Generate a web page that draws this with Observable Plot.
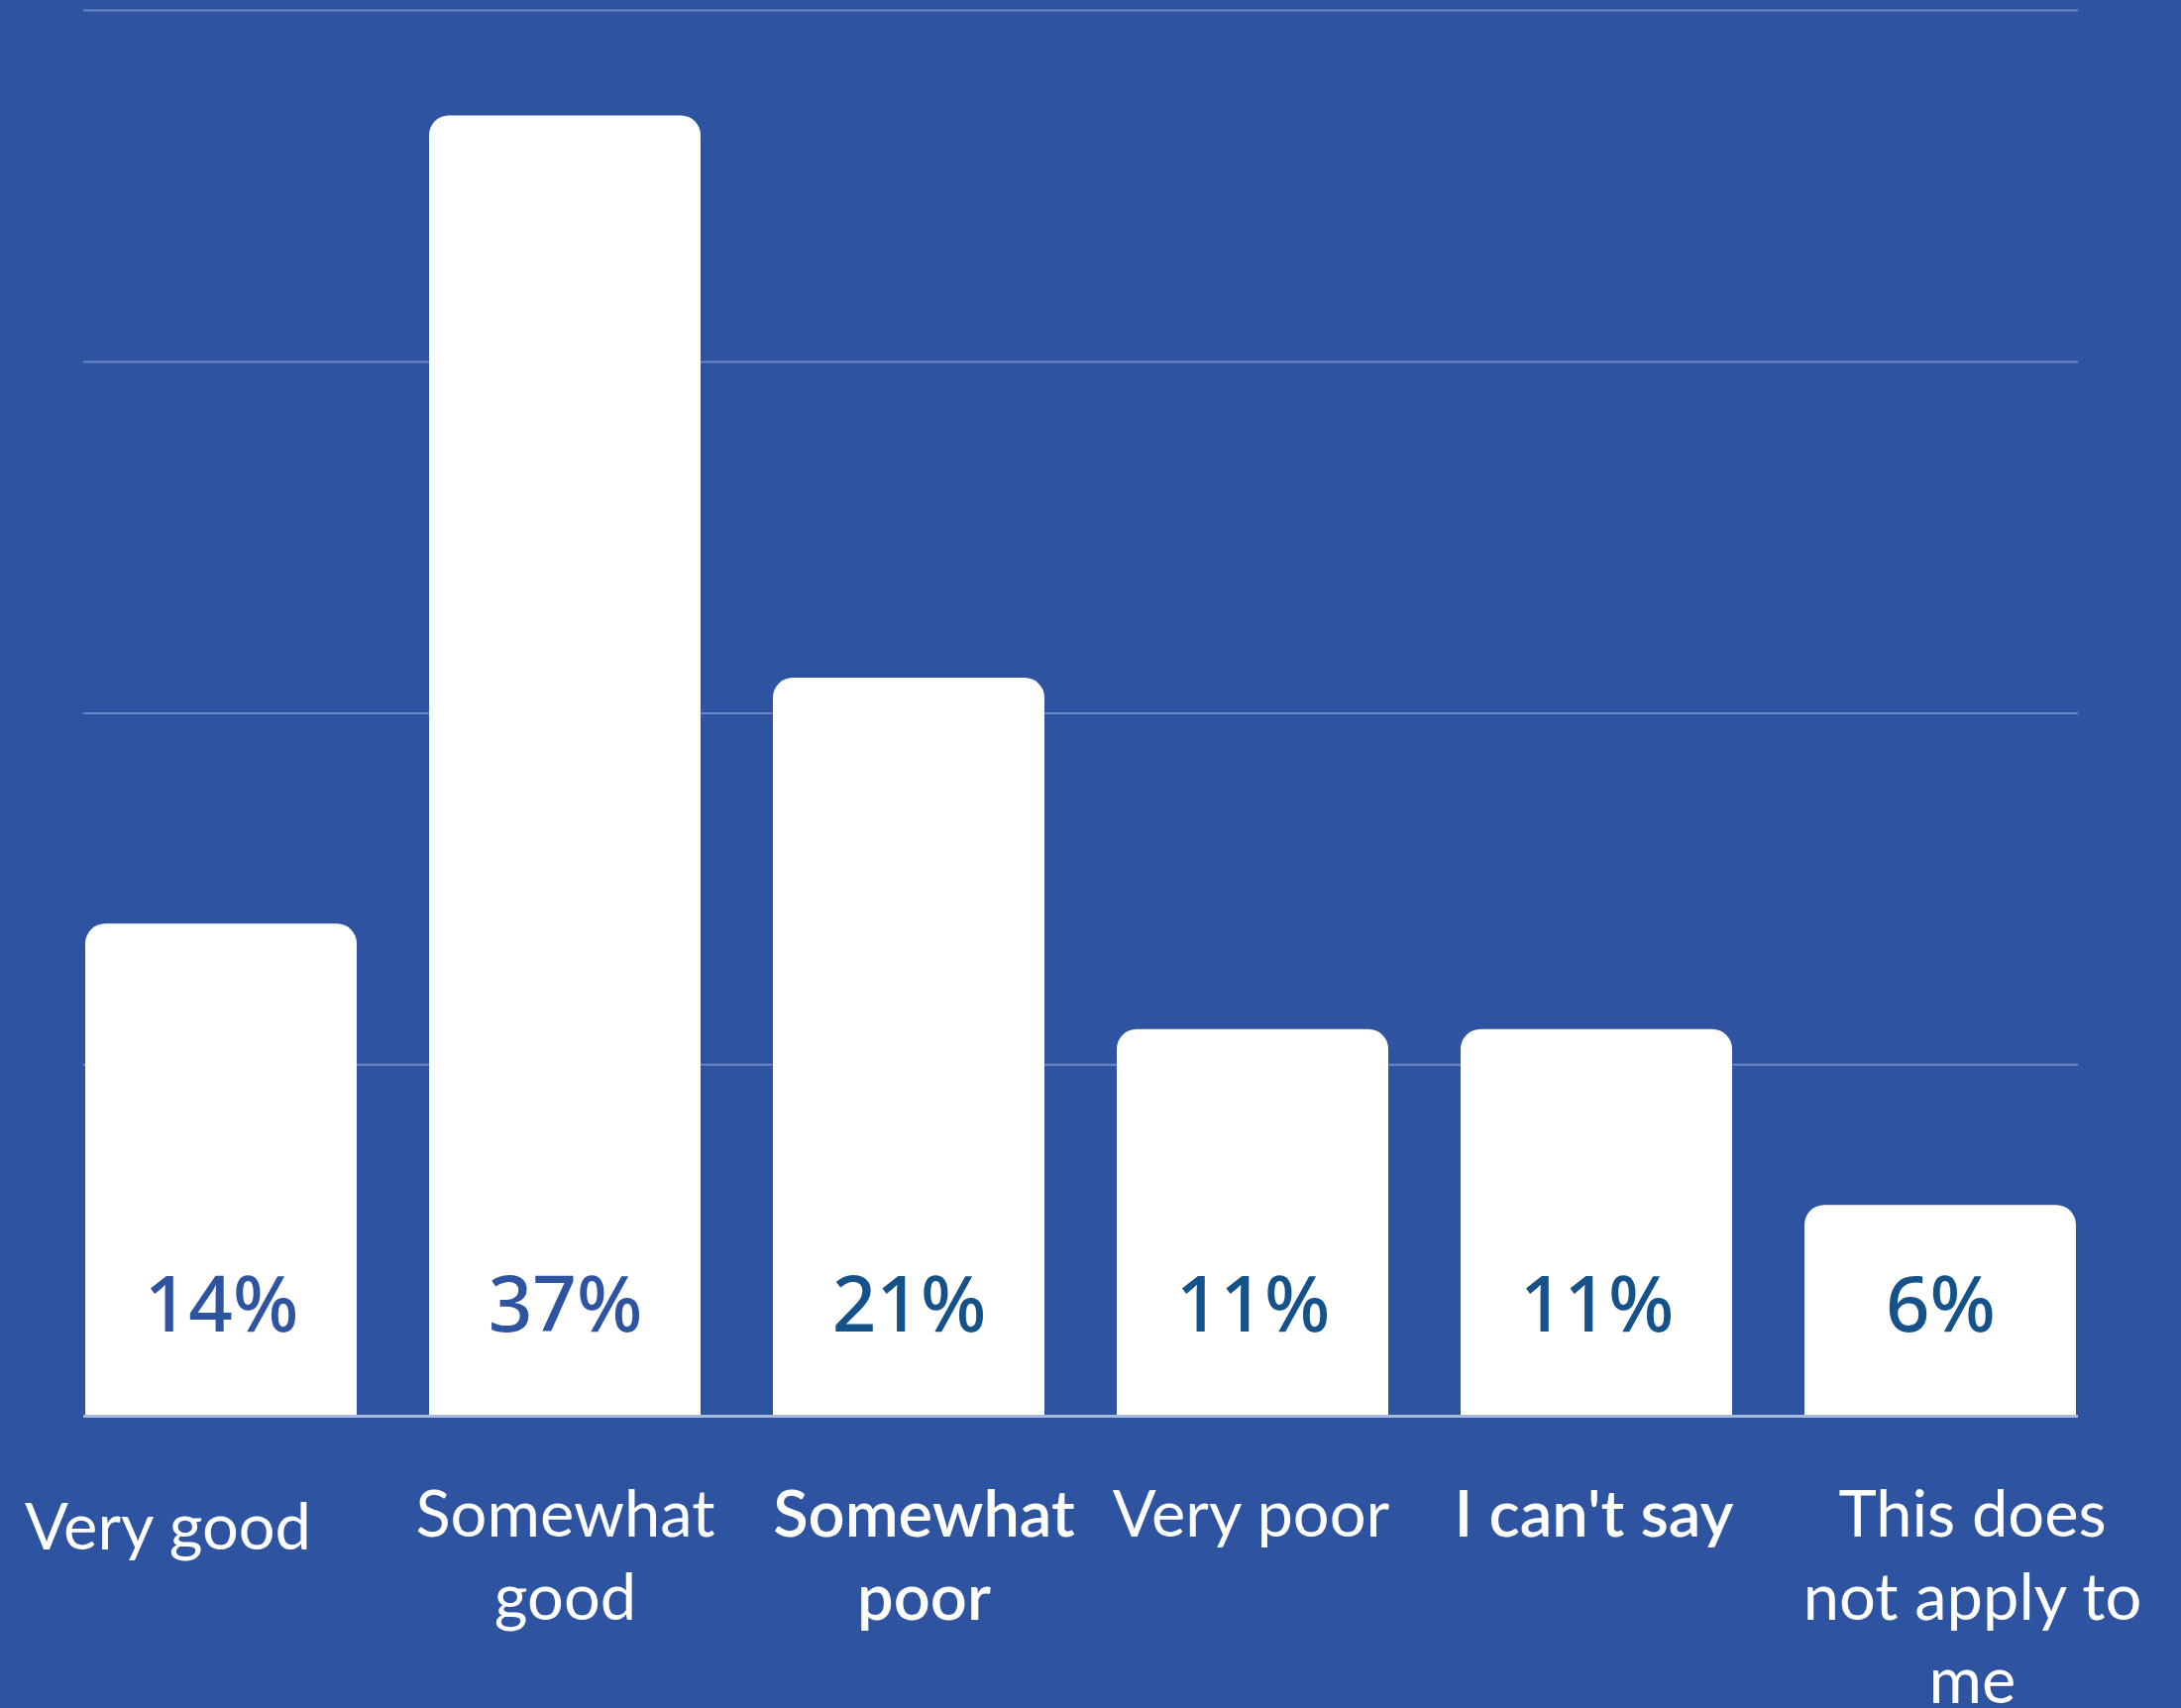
<!DOCTYPE html>
<html>
<head>
<meta charset="utf-8">
<script src="https://cdn.jsdelivr.net/npm/d3@7"></script>
<script src="https://cdn.jsdelivr.net/npm/@observablehq/plot@0.6"></script>
<style>
  html, body { margin: 0; padding: 0; background: #2E53A0; }
  #chart svg { display: block; }
</style>
</head>
<body>
<div id="chart"></div>
<script>
// ---- data ----
const categories = ["Very good", "Somewhat good", "Somewhat poor", "Very poor", "I can't say", "This does not apply to me"];
const axisLabels = ["Very good", "Somewhat\ngood", "Somewhat\npoor", "Very poor", "I can't say", "This does\nnot apply to\nme"];
const values = [14, 37, 21, 11, 11, 6];
const valueLabels = ["14%", "37%", "21%", "11%", "11%", "6%"];
const gridTicks = [10, 20, 30, 40];

const data = categories.map((c, i) => ({category: c, value: values[i], label: valueLabels[i], axis: axisLabels[i], i}));

// ---- layout / styles ----
const BG = "#2E53A0";
const labelColor = i => (i < 2 ? "#2E53A0" : "#16528A");
const labelNudge = {0: {dx: -54, dy: 75}, 2: {dx: 15}, 3: {dx: -2}, 4: {dx: -3}, 5: {dx: 32}};
const boldLabels = new Set([2, 4]);

const axisMarks = data.map(d => Plot.text([d], {
  x: "category",
  text: "axis",
  frameAnchor: "bottom",
  lineAnchor: "top",
  dy: (labelNudge[d.i] && labelNudge[d.i].dy) || 62,
  dx: (labelNudge[d.i] && labelNudge[d.i].dx) || 0,
  lineHeight: 1.29,
  fill: "white",
  fontSize: 65,
  fontWeight: boldLabels.has(d.i) ? 600 : 400,
  fontFamily: "Lato"
}));

const chart = Plot.plot({
  width: 2201,
  height: 1724,
  marginLeft: 84,
  marginRight: 104,
  marginTop: 10,
  marginBottom: 295,
  style: {background: BG, overflow: "visible"},
  x: {domain: categories, paddingInner: 0.21, paddingOuter: 0, axis: null},
  y: {domain: [0, 40], axis: null},
  marks: [
    Plot.ruleY(gridTicks, {stroke: "#6B86C2", strokeWidth: 2}),
    Plot.barY(data, {x: "category", y: "value", fill: "white", rx: 20}),
    Plot.barY(data, {x: "category", y: d => d.value / 2, fill: "white"}),
    Plot.ruleY([0], {stroke: "#A9B9DD", strokeWidth: 3}),
    ...data.map(d => Plot.text([d], {
      x: "category",
      text: "label",
      frameAnchor: "bottom",
      dy: -110,
      lineAnchor: "middle",
      fill: labelColor(d.i),
      fontSize: 78,
      fontWeight: 500,
      fontFamily: "Noto Sans"
    })),
    ...axisMarks
  ]
});
document.getElementById("chart").appendChild(chart);
</script>
</body>
</html>
